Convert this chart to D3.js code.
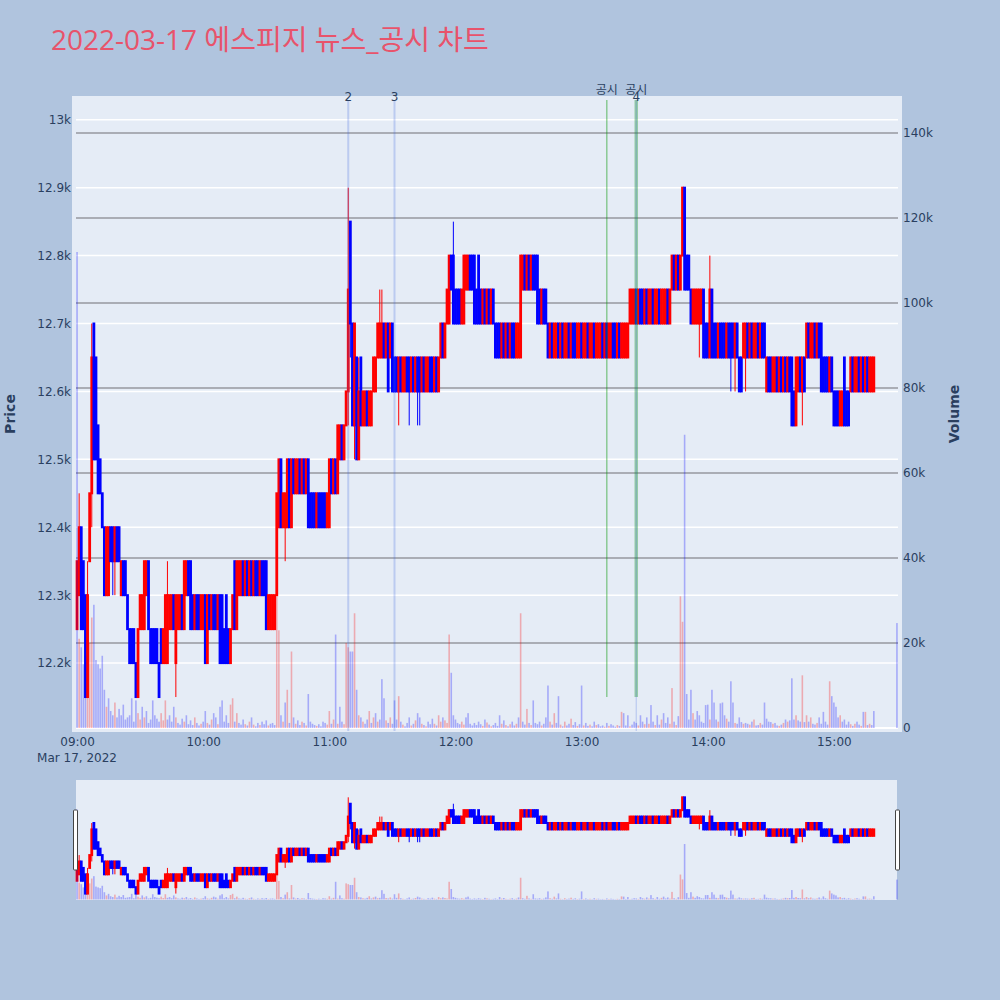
<!DOCTYPE html>
<html>
<head>
<meta charset="utf-8">
<script src="https://cdn.jsdelivr.net/npm/d3@7"></script>
<style>
  body { margin: 0; background: #b0c4de; }
  svg { display: block; font-family: "DejaVu Sans", Verdana, sans-serif; }
</style>
</head>
<body>
<div id="chart"></div>
<script>
const chartTitle = "2022-03-17 에스피지 뉴스_공시 차트";
const sessionOpen = "2022-03-17 09:00";     // one candle per minute from here
const closingAuction = "2022-03-17 15:30";  // last entry of every array

const opens = [
  12250,12300,12400,12350,12300,12150,12350,12450,12700,12650, 12550,12500,12450,12400,12300,12300,12400,12400,12350,12400,
  12400,12300,12350,12350,12300,12250,12250,12250,12200,12150, 12250,12250,12250,12300,12350,12250,12250,12250,12250,12200,
  12250,12200,12200,12200,12250,12250,12300,12200,12250,12250, 12300,12250,12300,12350,12350,12300,12250,12300,12300,12250,
  12250,12300,12200,12300,12250,12300,12300,12250,12300,12300, 12250,12300,12250,12200,12250,12350,12250,12300,12300,12350,
  12300,12350,12300,12350,12300,12350,12350,12300,12350,12350, 12350,12250,12250,12250,12250,12300,12400,12500,12400,12400,
  12400,12500,12400,12500,12450,12450,12500,12450,12500,12450, 12500,12450,12450,12450,12400,12450,12450,12450,12450,12400,
  12400,12500,12450,12500,12450,12500,12550,12500,12550,12600, 12850,12700,12550,12650,12500,12650,12550,12550,12600,12550,
  12550,12600,12600,12650,12650,12650,12700,12650,12700,12650, 12700,12650,12650,12600,12650,12600,12600,12650,12650,12600,
  12650,12600,12650,12650,12600,12650,12600,12600,12650,12650, 12600,12650,12600,12650,12700,12650,12700,12700,12800,12800,
  12750,12750,12750,12700,12700,12750,12750,12800,12800,12800, 12750,12800,12750,12700,12750,12700,12750,12700,12750,12700,
  12700,12700,12650,12700,12650,12700,12650,12700,12700,12650, 12650,12650,12750,12800,12750,12800,12750,12800,12800,12800,
  12750,12700,12750,12750,12700,12650,12700,12650,12650,12700, 12650,12700,12650,12650,12700,12650,12700,12700,12650,12650,
  12700,12650,12650,12700,12650,12650,12700,12650,12650,12650, 12700,12650,12700,12650,12650,12700,12700,12650,12700,12650,
  12650,12650,12650,12700,12700,12700,12750,12700,12750,12750, 12700,12750,12700,12700,12750,12700,12700,12750,12700,12700,
  12700,12750,12700,12750,12800,12750,12800,12750,12800,12900, 12800,12800,12750,12700,12700,12700,12700,12700,12750,12700,
  12700,12650,12750,12700,12700,12650,12700,12700,12700,12650, 12700,12700,12700,12650,12700,12650,12650,12650,12650,12700,
  12650,12700,12650,12650,12700,12650,12700,12700,12600,12650, 12650,12600,12600,12650,12600,12650,12600,12650,12600,12650,
  12650,12600,12550,12600,12650,12600,12650,12650,12700,12650, 12650,12700,12650,12700,12700,12650,12650,12650,12600,12650,
  12600,12600,12600,12550,12550,12650,12600,12600,12600,12650, 12600,12600,12650,12600,12650,12600,12650,12600,12600,12600,
  12650
];
const highs = [
  12350,12450,12400,12350,12300,12350,12450,12700,12700,12650, 12550,12500,12450,12400,12400,12400,12400,12400,12400,12400,
  12400,12350,12350,12350,12300,12250,12250,12250,12200,12250, 12300,12300,12350,12350,12350,12250,12250,12250,12250,12200,
  12250,12250,12300,12350,12300,12300,12300,12300,12300,12300, 12300,12350,12350,12350,12350,12300,12300,12300,12300,12300,
  12300,12300,12300,12300,12300,12300,12300,12300,12300,12300, 12250,12300,12250,12250,12300,12350,12350,12350,12350,12350,
  12350,12350,12350,12350,12350,12350,12350,12350,12350,12350, 12350,12300,12300,12300,12300,12450,12500,12500,12450,12450,
  12500,12500,12500,12500,12500,12500,12500,12500,12500,12500, 12500,12450,12450,12450,12450,12450,12450,12450,12450,12450,
  12500,12500,12500,12500,12550,12550,12550,12550,12600,12900, 12850,12700,12700,12650,12650,12650,12600,12600,12600,12600,
  12600,12650,12650,12700,12750,12750,12700,12700,12700,12700, 12700,12650,12650,12650,12650,12650,12650,12650,12650,12650,
  12650,12650,12650,12650,12650,12650,12650,12650,12650,12650, 12650,12650,12650,12700,12700,12700,12750,12800,12800,12850,
  12750,12750,12750,12750,12800,12800,12800,12800,12800,12800, 12750,12800,12750,12750,12750,12750,12750,12750,12750,12700,
  12700,12700,12700,12700,12700,12700,12700,12700,12700,12700, 12700,12800,12800,12800,12800,12800,12800,12800,12800,12800,
  12750,12750,12750,12750,12700,12700,12700,12700,12700,12700, 12700,12700,12700,12700,12700,12700,12700,12700,12700,12700,
  12700,12700,12700,12700,12700,12700,12700,12700,12700,12700, 12700,12700,12700,12700,12700,12700,12700,12700,12700,12700,
  12700,12700,12700,12750,12750,12750,12750,12750,12750,12750, 12750,12750,12750,12750,12750,12750,12750,12750,12750,12750,
  12750,12750,12750,12800,12800,12800,12800,12800,12900,12900, 12800,12800,12750,12750,12750,12750,12750,12750,12750,12700,
  12700,12800,12750,12700,12700,12700,12700,12700,12700,12700, 12700,12700,12700,12700,12700,12650,12650,12700,12700,12700,
  12700,12700,12700,12700,12700,12700,12700,12700,12650,12650, 12650,12650,12650,12650,12650,12650,12650,12650,12650,12650,
  12650,12600,12650,12650,12650,12650,12650,12700,12700,12700, 12700,12700,12700,12700,12700,12650,12650,12650,12650,12650,
  12600,12600,12600,12600,12600,12650,12600,12600,12650,12650, 12650,12650,12650,12650,12650,12650,12650,12650,12650,12650,
  12650
];
const lows = [
  12250,12300,12250,12250,12150,12150,12350,12400,12500,12500, 12450,12450,12400,12300,12300,12300,12350,12300,12300,12350,
  12350,12300,12300,12300,12250,12200,12200,12200,12150,12150, 12250,12250,12250,12300,12250,12200,12200,12200,12200,12150,
  12200,12200,12200,12200,12250,12250,12250,12150,12250,12250, 12250,12250,12300,12300,12250,12250,12250,12250,12250,12250,
  12250,12200,12200,12250,12250,12250,12250,12250,12200,12200, 12200,12200,12200,12200,12250,12250,12250,12300,12300,12300,
  12300,12300,12300,12300,12300,12300,12300,12300,12300,12300, 12250,12250,12250,12250,12250,12300,12400,12400,12400,12350,
  12400,12400,12400,12450,12450,12450,12450,12450,12450,12450, 12400,12400,12400,12400,12400,12400,12400,12400,12400,12400,
  12400,12450,12450,12450,12450,12500,12500,12500,12550,12550, 12650,12550,12500,12500,12500,12550,12550,12550,12550,12550,
  12550,12600,12600,12650,12650,12650,12650,12650,12600,12650, 12600,12600,12600,12550,12600,12600,12600,12600,12550,12600,
  12600,12600,12550,12550,12600,12600,12600,12600,12600,12600, 12600,12600,12600,12650,12650,12650,12700,12700,12750,12700,
  12700,12700,12700,12700,12700,12750,12750,12750,12750,12700, 12700,12700,12700,12700,12700,12700,12700,12700,12700,12650,
  12650,12650,12650,12650,12650,12650,12650,12650,12650,12650, 12650,12650,12750,12750,12750,12750,12750,12750,12750,12700,
  12700,12700,12700,12700,12650,12650,12650,12650,12650,12650, 12650,12650,12650,12650,12650,12650,12650,12650,12650,12650,
  12650,12650,12650,12650,12650,12650,12650,12650,12650,12650, 12650,12650,12650,12650,12650,12650,12650,12650,12650,12650,
  12650,12650,12650,12700,12700,12700,12700,12700,12700,12700, 12700,12700,12700,12700,12700,12700,12700,12700,12700,12700,
  12700,12700,12700,12750,12750,12750,12750,12750,12800,12750, 12750,12750,12700,12700,12700,12700,12650,12700,12650,12650,
  12650,12650,12650,12650,12650,12650,12650,12650,12650,12650, 12650,12600,12650,12600,12650,12600,12600,12650,12600,12650,
  12650,12650,12650,12650,12650,12650,12650,12650,12600,12600, 12600,12600,12600,12600,12600,12600,12600,12600,12600,12600,
  12550,12550,12550,12600,12600,12550,12600,12650,12650,12650, 12650,12650,12650,12650,12600,12600,12600,12600,12600,12600,
  12550,12550,12550,12550,12550,12550,12550,12550,12600,12600, 12600,12600,12600,12600,12600,12600,12600,12600,12600,12600,
  12650
];
const closes = [
  12350,12400,12250,12250,12150,12300,12450,12650,12500,12500, 12450,12450,12400,12300,12400,12400,12350,12350,12400,12350,
  12350,12350,12300,12300,12250,12200,12200,12200,12150,12250, 12300,12300,12350,12350,12250,12200,12200,12200,12200,12150,
  12200,12250,12300,12300,12300,12300,12250,12300,12300,12300, 12250,12350,12350,12300,12250,12250,12300,12250,12250,12300,
  12300,12200,12300,12250,12300,12250,12250,12300,12200,12200, 12200,12200,12200,12250,12300,12250,12350,12350,12350,12300,
  12350,12300,12350,12300,12350,12300,12300,12350,12300,12300, 12250,12300,12300,12300,12300,12450,12500,12400,12450,12450,
  12500,12400,12500,12450,12500,12500,12450,12500,12450,12500, 12400,12400,12400,12400,12450,12400,12400,12400,12400,12450,
  12500,12450,12500,12450,12550,12550,12500,12550,12600,12750, 12700,12550,12700,12500,12600,12550,12600,12600,12550,12600,
  12600,12650,12650,12700,12700,12700,12650,12700,12600,12700, 12600,12600,12600,12650,12600,12650,12650,12600,12600,12650,
  12600,12650,12600,12600,12650,12600,12650,12650,12600,12600, 12650,12600,12650,12700,12650,12700,12750,12800,12750,12700,
  12700,12700,12700,12750,12800,12800,12800,12750,12750,12700, 12700,12700,12700,12750,12700,12750,12700,12750,12700,12650,
  12650,12650,12700,12650,12700,12650,12700,12650,12650,12700, 12700,12800,12800,12750,12800,12750,12800,12750,12750,12700,
  12700,12750,12700,12700,12650,12700,12650,12700,12700,12650, 12700,12650,12700,12700,12650,12700,12650,12650,12700,12700,
  12650,12700,12700,12650,12700,12700,12650,12700,12700,12700, 12650,12700,12650,12700,12700,12650,12650,12700,12650,12700,
  12700,12700,12700,12750,12750,12750,12700,12750,12700,12700, 12750,12700,12750,12750,12700,12750,12750,12700,12750,12750,
  12750,12700,12750,12800,12750,12800,12750,12800,12900,12750, 12750,12750,12700,12750,12750,12750,12750,12750,12650,12650,
  12650,12750,12650,12650,12650,12700,12650,12650,12650,12700, 12650,12650,12650,12700,12650,12600,12600,12700,12700,12650,
  12700,12650,12700,12700,12650,12700,12650,12650,12650,12600, 12600,12650,12650,12600,12650,12600,12650,12600,12650,12600,
  12550,12550,12650,12650,12600,12650,12600,12700,12650,12700, 12700,12650,12700,12650,12600,12600,12600,12600,12650,12600,
  12550,12550,12550,12600,12600,12550,12550,12550,12650,12600, 12650,12650,12600,12650,12600,12650,12600,12650,12650,12650,
  12650
];
const volumes = [
  112000,21000,19000,15000,17000,22000,20000,26000,29000,16000, 15000,14000,17000,9000,5000,7000,4000,3000,6000,2500,
  4500,3000,5500,2000,2500,3000,7000,1500,6500,3500, 2000,5000,2500,4000,1200,2000,6500,3000,2200,1500,
  3500,1800,6500,2000,3000,1500,5000,2500,1200,800, 2200,1500,3000,900,1800,700,2500,1200,600,1000,
  1500,4000,1200,800,2000,3500,2500,900,5000,6500, 1500,3000,1200,5500,7000,1500,3500,1200,800,2000,
  900,600,1500,2500,800,400,1200,700,1500,900, 1800,600,1000,1200,700,31000,23000,3000,1500,6000,
  9000,1200,18000,2500,1000,1800,700,1500,1200,600, 8000,1500,1000,700,500,900,400,1500,1200,800,
  4000,1000,2000,22000,1000,5000,1500,900,20000,19000, 18000,18000,27000,9000,3000,2500,1500,1000,2000,4000,
  1200,2500,3500,1500,2000,11500,7000,1800,1200,2500, 1000,6500,2000,7500,1500,800,400,1200,2500,600,
  1000,1800,3500,2500,1000,700,400,1500,900,2200, 1000,600,3000,1500,2500,1800,1200,22000,13000,3000,
  2000,1200,900,1500,800,2500,3500,1000,600,1200, 700,1500,900,500,2000,1300,800,400,700,1200,
  500,3000,1000,1800,700,400,900,1500,600,1000, 2500,27000,1500,800,4500,1200,700,6500,1200,900,
  1500,600,1000,2500,10000,1500,800,3500,1200,7500, 800,400,1500,600,1000,2200,700,1400,500,900,
  10000,600,1200,500,800,400,1500,700,900,400, 600,300,1200,500,900,600,300,700,500,3800,
  3500,600,3000,400,800,1500,1200,600,3000,1500, 900,2500,1000,5400,1500,700,3000,800,2000,3500,
  1200,2500,1000,9400,1500,700,2800,31000,25000,69000, 8000,2000,9000,3500,2000,4000,3000,1500,1200,5400,
  5500,2000,9000,6000,2000,1500,5800,6000,3000,2200, 1500,11000,6000,1200,1000,2500,1400,1000,1200,1000,
  800,1500,2000,600,700,1200,800,6000,2200,1500, 1400,1000,1200,600,500,800,1200,2000,1500,1800,
  11700,2000,3000,1800,1500,12400,1400,3000,1500,2500, 1000,800,1200,2500,1000,3800,1500,800,11000,7500,
  6000,5000,2500,3000,1500,2000,800,1500,900,500, 1000,1500,800,500,3800,3800,700,1000,700,4000,
  24700
];

const priceTicks = [12200, 12300, 12400, 12500, 12600, 12700, 12800, 12900, 13000];
const volumeTicks = [0, 20000, 40000, 60000, 80000, 100000, 120000, 140000];
const timeTicks = ["09:00", "10:00", "11:00", "12:00", "13:00", "14:00", "15:00"];
const dateLabel = "Mar 17, 2022";

const newsTimes = ["11:09", "11:31", "13:26"];
const newsLabels = ["2", "3", "4"];
const disclosureTimes = ["13:12", "13:26"];
const disclosureLabels = ["공시", "공시"];

const parse = d3.timeParse("%Y-%m-%d %H:%M");
const day = "2022-03-17 ";
const t0 = parse(sessionOpen);
const tEnd = parse(closingAuction);
const times = opens.map((_, i) => i < opens.length - 1 ? d3.timeMinute.offset(t0, i) : tEnd);

const data = times.map((t, i) => ({
    t, o: opens[i], h: highs[i], l: lows[i], c: closes[i], v: volumes[i],
    up: closes[i] >= opens[i],
    volUp: i > 0 && closes[i] > closes[i - 1]
}));

const width = 1000, height = 1000;
const plotL = 76, plotR = 898, plotT = 96, plotB = 731;
const sliderT = 780, sliderB = 900;
const inkColor = "#2a3f5f";
const upColor = "#ff0000", downColor = "#0000ff";

const svg = d3.select("#chart").append("svg")
    .attr("width", width)
    .attr("height", height);

svg.append("rect").attr("width", width).attr("height", height).attr("fill", "#b0c4de");

svg.append("text")
    .attr("x", 51).attr("y", 50)
    .style("font-family", "'Open Sans', 'Noto Sans CJK KR', sans-serif")
    .style("font-size", "28px")
    .attr("fill", "#e8536b")
    .text(chartTitle);

const x = d3.scaleTime()
    .domain([new Date(+t0 - 30000), new Date(+tEnd + 30000)])
    .range([plotL, plotR]);
const yPrice = d3.scaleLinear().domain([12100, 13035]).range([plotB, plotT]);
const yVol = d3.scaleLinear().domain([-700, 148700]).range([plotB, plotT]);
const yPriceMini = d3.scaleLinear().domain([12100, 13035]).range([sliderB, sliderT]);
const yVolMini = d3.scaleLinear().domain([-700, 148700]).range([sliderB, sliderT]);

// plot background and grids
svg.append("rect")
    .attr("x", 72).attr("y", plotT)
    .attr("width", 902 - 72).attr("height", 732 - plotT)
    .attr("fill", "#e5ecf6");

svg.append("g").selectAll("line")
    .data(priceTicks)
    .join("line")
    .attr("x1", plotL).attr("x2", plotR)
    .attr("y1", d => yPrice(d)).attr("y2", d => yPrice(d))
    .attr("stroke", "#fff").attr("stroke-width", 1.5);

svg.append("g").selectAll("line")
    .data(volumeTicks.filter(d => d > 0))
    .join("line")
    .attr("x1", plotL).attr("x2", plotR)
    .attr("y1", d => yVol(d)).attr("y2", d => yVol(d))
    .attr("stroke", "#96999f").attr("stroke-width", 1.5);

svg.append("line")
    .attr("x1", plotL).attr("x2", plotR)
    .attr("y1", yVol(0)).attr("y2", yVol(0))
    .attr("stroke", "#fff").attr("stroke-width", 2);

function drawCandles(g, yP, bodyW) {
    const c = g.append("g").selectAll("g")
        .data(data)
        .join("g");
    c.append("line")
        .attr("x1", d => x(d.t)).attr("x2", d => x(d.t))
        .attr("y1", d => yP(d.h)).attr("y2", d => yP(d.l))
        .attr("stroke", d => d.up ? upColor : downColor)
        .attr("stroke-width", 1);
    // box with a 2px outline, like a plotly candle
    c.append("rect")
        .attr("x", d => x(d.t) - bodyW / 2)
        .attr("y", d => yP(Math.max(d.o, d.c)))
        .attr("width", bodyW)
        .attr("height", d => yP(Math.min(d.o, d.c)) - yP(Math.max(d.o, d.c)))
        .attr("fill", d => d.up ? upColor : downColor)
        .attr("stroke", d => d.up ? upColor : downColor)
        .attr("stroke-width", 2);
}

function drawVolume(g, yV) {
    g.append("g").selectAll("rect")
        .data(data)
        .join("rect")
        .attr("x", d => x(d.t) - 0.8)
        .attr("width", 1.6)
        .attr("y", d => yV(d.v))
        .attr("height", d => yV(0) - yV(d.v))
        .attr("fill", d => d.volUp ? upColor : downColor)
        .attr("opacity", 0.28);
}

const main = svg.append("g");
drawCandles(main, yPrice, 0.8);
drawVolume(main, yVol);

// news and disclosure markers
const markT = t => parse(day + t);

svg.append("g").selectAll("line")
    .data(disclosureTimes)
    .join("line")
    .attr("x1", d => x(markT(d))).attr("x2", d => x(markT(d)))
    .attr("y1", 100).attr("y2", 697)
    .attr("stroke", (d, i) => i === 0 ? "rgba(0,150,0,0.5)" : "rgba(20,150,40,0.38)")
    .attr("stroke-width", (d, i) => i === 0 ? 1.2 : 3.5);

svg.append("g").selectAll("line")
    .data(newsTimes)
    .join("line")
    .attr("x1", d => x(markT(d))).attr("x2", d => x(markT(d)))
    .attr("y1", 100).attr("y2", plotB)
    .attr("stroke", "rgba(65,105,225,0.25)")
    .attr("stroke-width", (d, i) => i === 2 ? 1.2 : 2);

svg.append("g").selectAll("text")
    .data(disclosureTimes)
    .join("text")
    .attr("x", d => x(markT(d))).attr("y", 94)
    .attr("text-anchor", "middle")
    .style("font-family", "'DejaVu Sans', 'Noto Sans CJK KR', sans-serif")
    .style("font-size", "12px")
    .attr("fill", inkColor)
    .text((d, i) => disclosureLabels[i]);

svg.append("g").selectAll("text")
    .data(newsTimes)
    .join("text")
    .attr("x", d => x(markT(d))).attr("y", 101)
    .attr("text-anchor", "middle")
    .style("font-size", "12px")
    .attr("fill", inkColor)
    .text((d, i) => newsLabels[i]);

// axes
function styleAxis(g) {
    g.select(".domain").remove();
    g.attr("font-family", "'DejaVu Sans', Verdana, sans-serif").attr("font-size", 12);
    g.selectAll("text").attr("fill", inkColor);
}

svg.append("g")
    .attr("transform", `translate(${plotL},0)`)
    .call(d3.axisLeft(yPrice).tickValues(priceTicks).tickFormat(d3.format("~s")).tickSize(0).tickPadding(5))
    .call(styleAxis);

svg.append("g")
    .attr("transform", `translate(${plotR},0)`)
    .call(d3.axisRight(yVol).tickValues(volumeTicks).tickFormat(d3.format("~s")).tickSize(0).tickPadding(5))
    .call(styleAxis);

svg.append("g")
    .attr("transform", `translate(0,${plotB})`)
    .call(d3.axisBottom(x).tickValues(timeTicks.map(markT)).tickFormat(d3.timeFormat("%H:%M")).tickSize(0).tickPadding(6))
    .call(styleAxis);

svg.append("text")
    .attr("x", x(t0)).attr("y", 762)
    .attr("text-anchor", "middle")
    .style("font-size", "12px")
    .attr("fill", inkColor)
    .text(dateLabel);

svg.append("text")
    .attr("transform", "translate(15,414) rotate(-90)")
    .attr("text-anchor", "middle")
    .style("font-size", "14px")
    .style("font-weight", "bold")
    .attr("fill", inkColor)
    .text("Price");

svg.append("text")
    .attr("transform", "translate(959,414) rotate(-90)")
    .attr("text-anchor", "middle")
    .style("font-size", "14px")
    .style("font-weight", "bold")
    .attr("fill", inkColor)
    .text("Volume");

// range slider
svg.append("rect")
    .attr("x", 76).attr("y", sliderT)
    .attr("width", 897 - 76).attr("height", sliderB - sliderT)
    .attr("fill", "#e5ecf6");

const mini = svg.append("g");
drawCandles(mini, yPriceMini, 0.8);
drawVolume(mini, yVolMini);

[74, 896].forEach(hx => {
    svg.append("rect")
        .attr("x", hx - 0.5).attr("y", 810)
        .attr("width", 4).attr("height", 60)
        .attr("rx", 1)
        .attr("fill", "#fff")
        .attr("stroke", "#444")
        .attr("stroke-width", 1);
});
</script>
</body>
</html>
